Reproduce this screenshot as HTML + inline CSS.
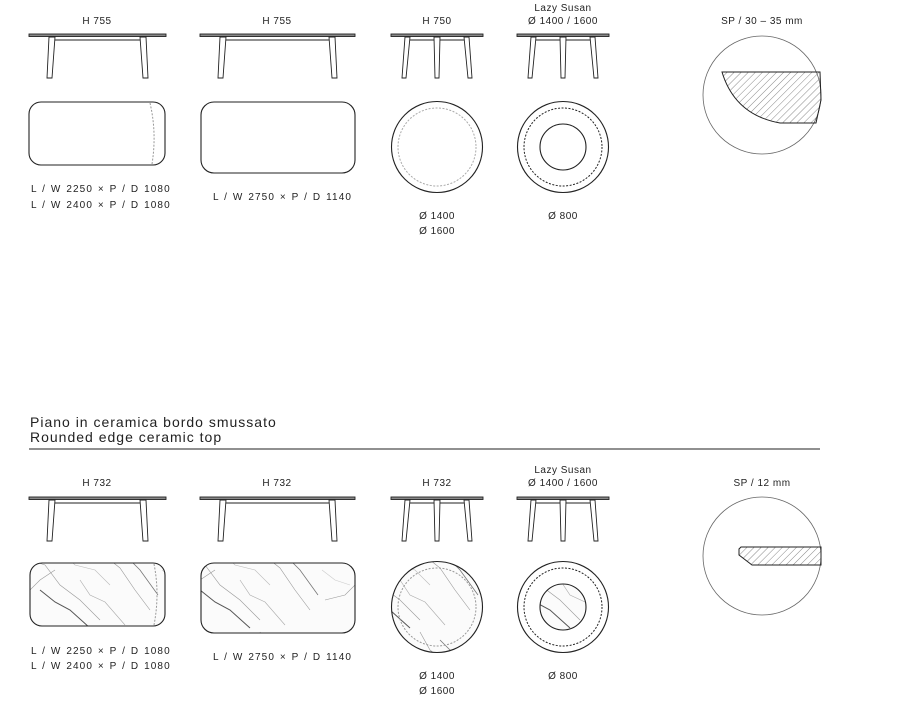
<!DOCTYPE html>
<html><head><meta charset="utf-8"><style>
html,body{margin:0;padding:0;background:#fff;}
svg{display:block;font-family:"Liberation Sans",sans-serif;}
text{fill:#222;font-size:10px;letter-spacing:0.5px;}
.dim{letter-spacing:1.1px;word-spacing:1px;}
</style></head><body>
<svg width="914" height="709" viewBox="0 0 914 709" xmlns="http://www.w3.org/2000/svg">
<defs>
<pattern id="marble" width="160" height="90" patternUnits="userSpaceOnUse">
<rect width="160" height="90" fill="#fbfbfb"/>
<g fill="none" stroke="#999" stroke-width="0.6">
<path d="M10 5 L30 20 L45 25 L60 45 L80 60 L100 80"/>
<path d="M40 50 L55 62 L70 70 L90 88" stroke="#555" stroke-width="1"/>
<path d="M100 2 L110 20 L120 28 L135 50 L150 70"/>
<path d="M120 10 L140 30 L158 55" stroke="#777" stroke-width="0.8"/>
<path d="M5 60 L25 55 L40 40 L55 30"/>
<path d="M60 10 L75 25 L95 30 L110 45" stroke="#bbb"/>
<path d="M2 30 L15 40 L30 45" stroke="#ccc"/>
<path d="M80 40 L90 55 L105 62 L125 85" stroke="#aaa"/>
</g>
</pattern>
<g id="side1" fill="#fff" stroke="#222" stroke-width="0.9">
<rect x="0" y="0" width="137" height="2.5" fill="#888"/>
<line x1="26" y1="6" x2="111" y2="6"/>
<polygon points="20,3 26,3 23,44 18,44"/>
<polygon points="111,3 117,3 119,44 114,44"/>
</g>
<g id="side2" fill="#fff" stroke="#222" stroke-width="0.9">
<rect x="0" y="0" width="155" height="2.5" fill="#888"/>
<line x1="26" y1="6" x2="129" y2="6"/>
<polygon points="20,3 26,3 23,44 18,44"/>
<polygon points="129,3 135,3 137,44 132,44"/>
</g>
<g id="sideR" fill="#fff" stroke="#222" stroke-width="0.9">
<rect x="0" y="0" width="92" height="2.5" fill="#888"/>
<line x1="18" y1="6" x2="74" y2="6"/>
<polygon points="14,3 19,3 15,44 11,44"/>
<polygon points="43,3 49,3 48,44 44,44"/>
<polygon points="73,3 78,3 81,44 77,44"/>
</g>
<pattern id="hatch" width="5" height="5" patternUnits="userSpaceOnUse" patternTransform="rotate(45)">
<line x1="0" y1="0" x2="0" y2="5" stroke="#555" stroke-width="0.7"/>
</pattern>
</defs>

<!-- TOP ROW -->
<text x="97" y="24" text-anchor="middle">H 755</text>
<text x="277" y="24" text-anchor="middle">H 755</text>
<text x="437" y="24" text-anchor="middle">H 750</text>
<text x="563" y="11" text-anchor="middle">Lazy Susan</text>
<text x="563" y="24" text-anchor="middle">Ø 1400 / 1600</text>
<text x="762" y="24" text-anchor="middle">SP / 30 – 35 mm</text>

<use href="#side1" x="29" y="34"/>
<use href="#side2" x="200" y="34"/>
<use href="#sideR" x="391" y="34"/>
<use href="#sideR" x="517" y="34"/>

<rect x="29" y="102" width="136" height="63" rx="12" fill="none" stroke="#222" stroke-width="1.1"/>
<path d="M150 103 Q157 133 152 164" fill="none" stroke="#999" stroke-dasharray="2,1.5"/>
<rect x="201" y="102" width="154" height="71" rx="13" fill="none" stroke="#222" stroke-width="1.1"/>
<circle cx="437" cy="147" r="45.5" fill="none" stroke="#222" stroke-width="1.1"/>
<circle cx="437" cy="147" r="39" fill="none" stroke="#aaa" stroke-dasharray="2,1.5"/>
<circle cx="563" cy="147" r="45.5" fill="none" stroke="#222" stroke-width="1.1"/>
<circle cx="563" cy="147" r="39" fill="none" stroke="#222" stroke-dasharray="2,1.5"/>
<circle cx="563" cy="147" r="23" fill="none" stroke="#222" stroke-width="1.1"/>

<text class="dim" x="31" y="192">L / W  2250 × P / D  1080</text>
<text class="dim" x="31" y="208">L / W  2400 × P / D  1080</text>
<text class="dim" x="213" y="200">L / W  2750 × P / D  1140</text>
<text x="437" y="219" text-anchor="middle">Ø 1400</text>
<text x="437" y="234" text-anchor="middle">Ø 1600</text>
<text x="563" y="219" text-anchor="middle">Ø 800</text>

<circle cx="762" cy="95" r="59" fill="none" stroke="#666" stroke-width="0.8"/>
<path d="M722 72 L820 72 L821 100 L816 123 L780 123 Q735 115 722 72 Z" fill="url(#hatch)" stroke="#222" stroke-width="1"/>

<!-- BOTTOM SECTION -->
<text x="30" y="427" style="font-size:14px;letter-spacing:1px">Piano in ceramica bordo smussato</text>
<text x="30" y="442" style="font-size:14px;letter-spacing:1px">Rounded edge ceramic top</text>
<line x1="29" y1="449" x2="820" y2="449" stroke="#222" stroke-width="1"/>

<text x="97" y="486" text-anchor="middle">H 732</text>
<text x="277" y="486" text-anchor="middle">H 732</text>
<text x="437" y="486" text-anchor="middle">H 732</text>
<text x="563" y="473" text-anchor="middle">Lazy Susan</text>
<text x="563" y="486" text-anchor="middle">Ø 1400 / 1600</text>
<text x="762" y="486" text-anchor="middle">SP / 12 mm</text>

<use href="#side1" x="29" y="497"/>
<use href="#side2" x="200" y="497"/>
<use href="#sideR" x="391" y="497"/>
<use href="#sideR" x="517" y="497"/>

<rect x="30" y="563" width="135" height="63" rx="12" fill="url(#marble)" stroke="#222" stroke-width="1.1"/>
<path d="M154 564 Q160 594 154 625" fill="none" stroke="#999" stroke-dasharray="2,1.5"/>
<rect x="201" y="563" width="154" height="70" rx="13" fill="url(#marble)" stroke="#222" stroke-width="1.1"/>
<circle cx="437" cy="607" r="45.5" fill="url(#marble)" stroke="#222" stroke-width="1.1"/>
<circle cx="437" cy="607" r="39" fill="none" stroke="#999" stroke-dasharray="2,1.5"/>
<circle cx="563" cy="607" r="45.5" fill="none" stroke="#222" stroke-width="1.1"/>
<circle cx="563" cy="607" r="39" fill="none" stroke="#222" stroke-dasharray="2,1.5"/>
<circle cx="563" cy="607" r="23" fill="url(#marble)" stroke="#222" stroke-width="1.1"/>

<text class="dim" x="31" y="654">L / W  2250 × P / D  1080</text>
<text class="dim" x="31" y="669">L / W  2400 × P / D  1080</text>
<text class="dim" x="213" y="660">L / W  2750 × P / D  1140</text>
<text x="437" y="679" text-anchor="middle">Ø 1400</text>
<text x="437" y="694" text-anchor="middle">Ø 1600</text>
<text x="563" y="679" text-anchor="middle">Ø 800</text>

<circle cx="762" cy="556" r="59" fill="none" stroke="#666" stroke-width="0.8"/>
<path d="M741 547 L821 547 L821 565 L752 565 L739 555 L739 549 Z" fill="url(#hatch)" stroke="#222" stroke-width="1"/>
</svg>
</body></html>
